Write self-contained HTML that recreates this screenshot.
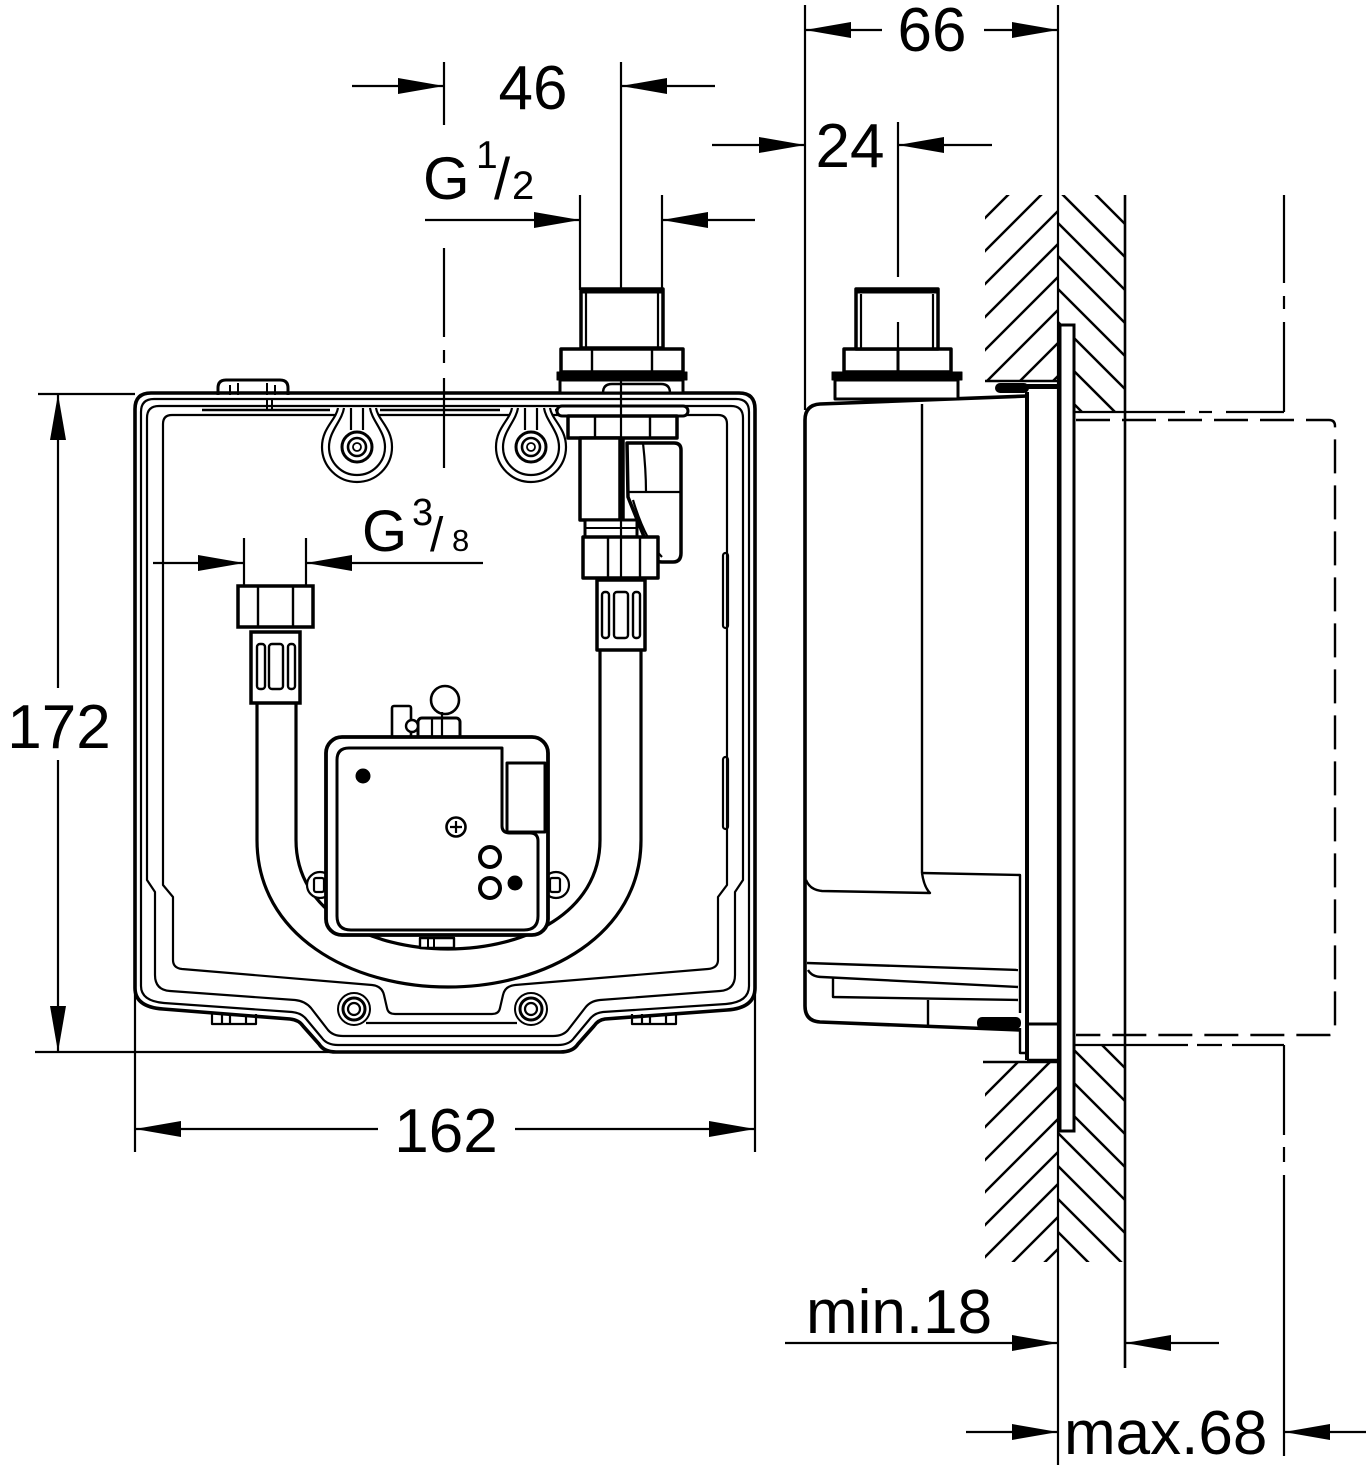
<!DOCTYPE html>
<html><head><meta charset="utf-8">
<style>
html,body{margin:0;padding:0;background:#fff;}
svg{display:block}
text{font-family:"Liberation Sans",Arial,sans-serif;fill:#000}
</style></head><body>
<svg width="1366" height="1465" viewBox="0 0 1366 1465" xmlns="http://www.w3.org/2000/svg">
<defs>
<clipPath id="hUL"><rect x="985" y="195" width="73" height="186"/></clipPath>
<clipPath id="hUR"><rect x="1058" y="195" width="67" height="216"/></clipPath>
<clipPath id="hLL"><rect x="985" y="1061" width="73" height="201"/></clipPath>
<clipPath id="hLR"><rect x="1058" y="1045" width="67" height="217"/></clipPath>
</defs>
<rect width="1366" height="1465" fill="#fff"/>

<!-- ============ DIMENSIONS LEFT VIEW ============ -->
<g stroke="#000" stroke-width="2.2" fill="none">
  <!-- 46 -->
  <line x1="352" y1="86" x2="444" y2="86"/>
  <line x1="621" y1="86" x2="715" y2="86"/>
  <line x1="444" y1="62" x2="444" y2="125"/>
  <line x1="621" y1="62" x2="621" y2="333"/>
  <line x1="621" y1="347" x2="621" y2="360"/>
  <!-- G1/2 -->
  <line x1="425" y1="220" x2="580" y2="220"/>
  <line x1="662" y1="220" x2="755" y2="220"/>
  <line x1="580" y1="195" x2="580" y2="290"/>
  <line x1="662" y1="195" x2="662" y2="290"/>
  <!-- center line -->
  <line x1="444" y1="248" x2="444" y2="337"/>
  <line x1="444" y1="350" x2="444" y2="363"/>
  <line x1="444" y1="378" x2="444" y2="468"/>
  <!-- 172 -->
  <line x1="38" y1="394" x2="135" y2="394"/>
  <line x1="35" y1="1052" x2="336" y2="1052"/>
  <line x1="58" y1="394" x2="58" y2="688"/>
  <line x1="58" y1="760" x2="58" y2="1052"/>
  <!-- 162 -->
  <line x1="135" y1="985" x2="135" y2="1152"/>
  <line x1="755" y1="985" x2="755" y2="1152"/>
  <line x1="135" y1="1129" x2="378" y2="1129"/>
  <line x1="515" y1="1129" x2="755" y2="1129"/>
  <!-- G3/8 -->
  <line x1="153" y1="563" x2="244" y2="563"/>
  <line x1="306" y1="563" x2="483" y2="563"/>
  <line x1="244" y1="538" x2="244" y2="586"/>
  <line x1="306" y1="538" x2="306" y2="586"/>
</g>
<g fill="#000" stroke="none">
  <polygon points="444,86 398,78 398,94"/>
  <polygon points="621,86 667,78 667,94"/>
  <polygon points="580,220 534,212 534,228"/>
  <polygon points="662,220 708,212 708,228"/>
  <polygon points="58,394 50,440 66,440"/>
  <polygon points="58,1052 50,1006 66,1006"/>
  <polygon points="135,1129 181,1121 181,1137"/>
  <polygon points="755,1129 709,1121 709,1137"/>
  <polygon points="244,563 198,555 198,571"/>
  <polygon points="306,563 352,555 352,571"/>
</g>
<text x="533" y="109" font-size="62" text-anchor="middle">46</text>
<text x="423" y="199" font-size="60">G</text>
<text x="476" y="168" font-size="39">1</text>
<text x="494" y="199" font-size="58">/</text>
<text x="512" y="199" font-size="40">2</text>
<text x="59" y="748" font-size="62" text-anchor="middle">172</text>
<text x="446" y="1152" font-size="62" text-anchor="middle">162</text>
<text x="362" y="551" font-size="58">G</text>
<text x="412" y="525" font-size="38">3</text>
<text x="430" y="551" font-size="48">/</text>
<text x="452" y="551" font-size="31">8</text>

<!-- ============ LEFT VIEW BOX ============ -->
<g stroke="#000" fill="none" stroke-linejoin="round">
  <!-- top tab -->
  <path d="M218,395 V388 Q218,380 226,380 H280 Q288,380 288,388 V395" stroke-width="3" fill="#fff"/>
  <path d="M230,395 V385 M238,395 V383 M267,395 V383 M275,395 V385" stroke-width="2"/>
  <!-- outer contour -->
  <path d="M135,409 Q135,393 151,393 H739 Q755,393 755,409 V988 Q755,1008 727,1010 L605,1019 Q598,1020 594,1026 L578,1044 Q573,1052 560,1052 H336 Q324,1052 319,1044 L303,1026 Q299,1020 290,1019 L163,1009 Q135,1007 135,988 Z" stroke-width="3.6"/>
  <path d="M141,412 Q141,399 154,399 H736 Q749,399 749,412 V986 Q749,1002 726,1004 L603,1012 Q594,1013 589,1020 L574,1038 Q569,1045 558,1045 H338 Q327,1045 322,1038 L307,1020 Q302,1013 292,1012 L164,1003 Q141,1001 141,986 Z" stroke-width="2.2"/>
  <path d="M147,880 V418 Q147,406 159,406 H731 Q743,406 743,418 V880 L735,892 V975 Q735,990 720,991 L600,1000 Q590,1001 585,1008 L568,1030 Q563,1036 553,1036 H343 Q333,1036 328,1030 L311,1008 Q305,1001 295,1000 L170,991 Q155,990 155,975 V892 Z" stroke-width="2.2"/>
  <path d="M163,885 V424 Q163,415 172,415 H718 Q727,415 727,424 V885 L718,897 V960 Q718,968 708,969 L515,985 Q505,986 503,995 L500,1008 Q499,1014 492,1014 H395 Q388,1014 387,1008 L384,995 Q382,986 372,985 L182,969 Q173,968 173,960 V897 Z" stroke-width="2.2"/>
  <!-- rail -->
  <path d="M202,410 H330 M380,410 H500 M555,410 H580" stroke-width="2.4"/>
  <path d="M267,399 V411 M272,399 V411" stroke-width="2"/>
  <!-- bar between bottom lugs -->
  <line x1="366" y1="1023" x2="517" y2="1023" stroke-width="2.2"/>
  <!-- side slots -->
  <rect x="723" y="553" width="5" height="75" rx="2.5" stroke-width="2.2"/>
  <rect x="723" y="757" width="5" height="72" rx="2.5" stroke-width="2.2"/>
  <!-- feet -->
  <path d="M212,1012 V1024 H256 V1014 M222,1014 V1024 M230,1014 V1024 M246,1014 V1024" stroke-width="2.2"/>
  <path d="M632,1014 V1024 H676 V1012 M642,1014 V1024 M650,1014 V1024 M666,1014 V1024" stroke-width="2.2"/>
</g>

<!-- keyhole lugs -->
<g stroke="#000" fill="#fff" stroke-width="2.2">
  <g>
    <path d="M338,408 C336,420 322,428 322,447 A35,35 0 0 0 392,447 C392,428 378,420 376,408"/>
    <path d="M344,408 C342,421 329,431 329,447 A28,28 0 0 0 385,447 C385,431 372,421 370,408"/>
    <path d="M351,408 V430 M363,408 V430" fill="none"/>
    <circle cx="357" cy="447" r="15" stroke-width="3"/>
    <circle cx="357" cy="447" r="9" stroke-width="2.6"/>
    <circle cx="357" cy="447" r="4" stroke-width="1.8"/>
  </g>
  <g>
    <path d="M512,408 C510,420 496,428 496,447 A35,35 0 0 0 566,447 C566,428 552,420 550,408"/>
    <path d="M518,408 C516,421 503,431 503,447 A28,28 0 0 0 559,447 C559,431 546,421 544,408"/>
    <path d="M525,408 V430 M537,408 V430" fill="none"/>
    <circle cx="531" cy="447" r="15" stroke-width="3"/>
    <circle cx="531" cy="447" r="9" stroke-width="2.6"/>
    <circle cx="531" cy="447" r="4" stroke-width="1.8"/>
  </g>
  <!-- bottom lugs -->
  <circle cx="354" cy="1009" r="16" stroke-width="2"/>
  <circle cx="354" cy="1009" r="11" stroke-width="3"/>
  <circle cx="354" cy="1009" r="6" stroke-width="2.2"/>
  <circle cx="531" cy="1009" r="16" stroke-width="2"/>
  <circle cx="531" cy="1009" r="11" stroke-width="3"/>
  <circle cx="531" cy="1009" r="6" stroke-width="2.2"/>
</g>

<!-- hose -->
<g stroke="#000" fill="none" stroke-width="3.2">
  <path d="M257,703 V840 C257,935 350,987 448,987 C546,987 641,935 641,840 V650"/>
  <path d="M296,703 V840 C296,912 370,949 448,949 C526,949 600,912 600,840 V650"/>
</g>

<!-- module side lugs -->
<g stroke="#000" fill="#fff" stroke-width="2.2">
  <circle cx="320" cy="885" r="13"/>
  <rect x="314" y="878" width="10" height="14" rx="2"/>
  <circle cx="556" cy="885" r="13"/>
  <rect x="550" y="878" width="10" height="14" rx="2"/>
</g>

<!-- module -->
<g stroke="#000" fill="#fff" stroke-linejoin="round">
  <rect x="392" y="706" width="19" height="31" rx="2" stroke-width="2.6"/>
  <circle cx="445" cy="700" r="14" stroke-width="2.6"/>
  <rect x="418" y="718" width="42" height="32" rx="4" stroke-width="3"/>
  <circle cx="412" cy="726" r="6" stroke-width="2.4"/>
  <path d="M432,718 V748 M442,712 V748" stroke-width="2.2" fill="none"/>
  <rect x="326" y="737" width="222" height="198" rx="16" stroke-width="3.8"/>
  <path d="M349,748 H502 V826 Q502,833 510,833 H530 Q538,833 538,841 V916 Q538,930 524,930 H351 Q337,930 337,916 V760 Q337,748 349,748 Z" stroke-width="3"/>
  <rect x="507" y="763" width="38" height="69" stroke-width="3"/>
  <rect x="420" y="938" width="34" height="10" stroke-width="2.4"/>
  <path d="M428,938 V948 M434,938 V948" stroke-width="2" fill="none"/>
</g>
<g stroke="#000">
  <circle cx="363" cy="776" r="7" fill="#000"/>
  <circle cx="456" cy="827" r="9.5" fill="#fff" stroke-width="2.6"/>
  <path d="M450,827 H462 M456,821 V833" stroke-width="2.2"/>
  <circle cx="490" cy="857" r="10" fill="#fff" stroke-width="4"/>
  <circle cx="490" cy="888" r="10" fill="#fff" stroke-width="4"/>
  <circle cx="515" cy="883" r="7" fill="#000"/>
</g>

<!-- left hose nut & sleeve -->
<g stroke="#000" fill="#fff" stroke-width="3.5">
  <rect x="238" y="586" width="75" height="41"/>
  <path d="M258,586 V627 M293,586 V627" stroke-width="2.4" fill="none"/>
  <rect x="251" y="632" width="49" height="71"/>
  <rect x="257" y="644" width="8" height="45" rx="3" stroke-width="2.4"/>
  <rect x="269" y="644" width="14" height="45" rx="3" stroke-width="2.4"/>
  <rect x="288" y="644" width="7" height="45" rx="3" stroke-width="2.4"/>
</g>

<!-- right valve stack (left view) -->
<g stroke="#000" fill="#fff" stroke-width="3.5" stroke-linejoin="round">
  <rect x="581" y="289" width="82" height="59"/>
  <line x1="581" y1="291" x2="663" y2="291" stroke-width="5"/>
  <path d="M586,293 V348 M658,293 V348" stroke-width="2.2" fill="none"/>
  <rect x="561" y="349" width="122" height="23"/>
  <path d="M592,349 V372 M652,349 V372" stroke-width="2.4" fill="none"/>
  <rect x="557" y="372" width="130" height="8" fill="#000" stroke-width="1"/>
  <rect x="560" y="380" width="123" height="13" stroke-width="3"/>
  <path d="M603,393 Q603,384 612,384 H661 Q670,384 670,393" stroke-width="2.4" fill="none"/>
  <rect x="557" y="406" width="131" height="10" rx="5" stroke-width="3"/>
  <rect x="568" y="416" width="109" height="22"/>
  <path d="M595,416 V438 M650,416 V438" stroke-width="2.4" fill="none"/>
  <rect x="580" y="438" width="40" height="82"/>
  <line x1="623" y1="438" x2="623" y2="520" stroke-width="3.5"/>
  <path d="M627,443 H674 Q681,443 681,450 V553 Q681,562 673,562 H662 Q654,562 651,554 L628,497 Z"/>
  <path d="M628,492 H680 M633,500 Q645,540 662,557 M643,443 Q646,470 646,492" stroke-width="2.2" fill="none"/>
  <rect x="585" y="520" width="52" height="17" stroke-width="3"/>
  <line x1="585" y1="528" x2="637" y2="528" stroke-width="2"/>
  <rect x="583" y="537" width="75" height="41"/>
  <path d="M608,537 V578 M640,537 V578" stroke-width="2.4" fill="none"/>
  <rect x="597" y="580" width="48" height="70"/>
  <rect x="602" y="592" width="7" height="46" rx="3" stroke-width="2.4"/>
  <rect x="614" y="592" width="14" height="46" rx="3" stroke-width="2.4"/>
  <rect x="633" y="592" width="7" height="46" rx="3" stroke-width="2.4"/>
</g>
<g stroke="#000" stroke-width="2.2">
  <line x1="621" y1="377" x2="621" y2="580"/>
</g>

<!-- ============ RIGHT VIEW ============ -->
<!-- hatching -->
<g stroke="#000" stroke-width="2.5" fill="none">
  <g clip-path="url(#hUL)">
    <line x1="900" y1="303" x2="1150" y2="53"/>
    <line x1="900" y1="336" x2="1150" y2="86"/>
    <line x1="900" y1="369" x2="1150" y2="119"/>
    <line x1="900" y1="402" x2="1150" y2="152"/>
    <line x1="900" y1="435" x2="1150" y2="185"/>
    <line x1="900" y1="468" x2="1150" y2="218"/>
    <line x1="900" y1="501" x2="1150" y2="251"/>
    <line x1="900" y1="534" x2="1150" y2="284"/>
  </g>
  <g clip-path="url(#hUR)">
    <line x1="1000" y1="99" x2="1200" y2="299"/>
    <line x1="1000" y1="132" x2="1200" y2="332"/>
    <line x1="1000" y1="165" x2="1200" y2="365"/>
    <line x1="1000" y1="198" x2="1200" y2="398"/>
    <line x1="1000" y1="231" x2="1200" y2="431"/>
    <line x1="1000" y1="264" x2="1200" y2="464"/>
    <line x1="1000" y1="297" x2="1200" y2="497"/>
    <line x1="1000" y1="330" x2="1200" y2="530"/>
  </g>
  <g clip-path="url(#hLL)">
    <line x1="900" y1="1180" x2="1150" y2="930"/>
    <line x1="900" y1="1212" x2="1150" y2="962"/>
    <line x1="900" y1="1245" x2="1150" y2="995"/>
    <line x1="900" y1="1277" x2="1150" y2="1027"/>
    <line x1="900" y1="1310" x2="1150" y2="1060"/>
    <line x1="900" y1="1342" x2="1150" y2="1092"/>
    <line x1="900" y1="1375" x2="1150" y2="1125"/>
    <line x1="900" y1="1407" x2="1150" y2="1157"/>
  </g>
  <g clip-path="url(#hLR)">
    <line x1="1000" y1="943" x2="1200" y2="1143"/>
    <line x1="1000" y1="976" x2="1200" y2="1176"/>
    <line x1="1000" y1="1009" x2="1200" y2="1209"/>
    <line x1="1000" y1="1042" x2="1200" y2="1242"/>
    <line x1="1000" y1="1075" x2="1200" y2="1275"/>
    <line x1="1000" y1="1108" x2="1200" y2="1308"/>
    <line x1="1000" y1="1141" x2="1200" y2="1341"/>
    <line x1="1000" y1="1174" x2="1200" y2="1374"/>
  </g>
  <line x1="985" y1="381" x2="1057" y2="381"/>
  <line x1="983" y1="1062" x2="1057" y2="1062"/>
</g>

<!-- wall lines & dims -->
<g stroke="#000" stroke-width="2.2" fill="none">
  <line x1="1058" y1="5" x2="1058" y2="1465"/>
  <line x1="1125" y1="195" x2="1125" y2="1368" stroke-width="2.6"/>
  <line x1="805" y1="5" x2="805" y2="410"/>
  <!-- 66 -->
  <line x1="805" y1="30" x2="882" y2="30"/>
  <line x1="984" y1="30" x2="1058" y2="30"/>
  <!-- 24 -->
  <line x1="712" y1="145" x2="805" y2="145"/>
  <line x1="898" y1="145" x2="992" y2="145"/>
  <line x1="898" y1="122" x2="898" y2="277"/>
  <line x1="898" y1="298" x2="898" y2="313"/>
  <!-- min.18 -->
  <line x1="785" y1="1343" x2="1058" y2="1343"/>
  <line x1="1125" y1="1343" x2="1219" y2="1343"/>
  <!-- max.68 -->
  <line x1="966" y1="1432" x2="1058" y2="1432"/>
  <line x1="1284" y1="1432" x2="1366" y2="1432"/>
  <!-- dash-dot upper -->
  <line x1="1284" y1="195" x2="1284" y2="283"/>
  <line x1="1284" y1="296" x2="1284" y2="309"/>
  <line x1="1284" y1="322" x2="1284" y2="412"/>
  <line x1="1284" y1="412" x2="1226" y2="412"/>
  <line x1="1212" y1="412" x2="1199" y2="412"/>
  <line x1="1185" y1="412" x2="1074" y2="412"/>
  <!-- dash-dot lower -->
  <line x1="1074" y1="1045" x2="1188" y2="1045"/>
  <line x1="1197" y1="1045" x2="1222" y2="1045"/>
  <line x1="1232" y1="1045" x2="1284" y2="1045"/>
  <line x1="1284" y1="1045" x2="1284" y2="1135"/>
  <line x1="1284" y1="1147" x2="1284" y2="1162"/>
  <line x1="1284" y1="1175" x2="1284" y2="1456"/>
  <!-- dashed cover -->
  <path d="M1076,420 H1329 Q1335,420 1335,426 V1029 Q1335,1035 1329,1035 H1076" stroke-dasharray="34 12" stroke-width="2.4"/>
</g>
<g fill="#000">
  <polygon points="805,30 851,22 851,38"/>
  <polygon points="1058,30 1012,22 1012,38"/>
  <polygon points="805,145 759,137 759,153"/>
  <polygon points="898,145 944,137 944,153"/>
  <polygon points="1058,1343 1012,1335 1012,1351"/>
  <polygon points="1125,1343 1171,1335 1171,1351"/>
  <polygon points="1058,1432 1012,1424 1012,1440"/>
  <polygon points="1284,1432 1330,1424 1330,1440"/>
</g>
<text x="932" y="51" font-size="62" text-anchor="middle">66</text>
<text x="850" y="167" font-size="62" text-anchor="middle">24</text>
<text x="806" y="1333" font-size="62">min.18</text>
<text x="1064" y="1454" font-size="62">max.68</text>

<!-- plate -->
<rect x="1060" y="325" width="14" height="806" fill="#fff" stroke="#000" stroke-width="3"/>

<!-- right view box -->
<g stroke="#000" fill="none" stroke-linejoin="round">
  <path d="M1027,396 L820,404 Q805,405 805,420 V1006 Q805,1021 820,1022 L1020,1030" stroke-width="3.6"/>
  <line x1="922" y1="404" x2="922" y2="873" stroke-width="2.4"/>
  <path d="M922,873 L1020,875 V1013" stroke-width="2.4"/>
  <path d="M806,880 Q810,890 822,891 L930,893 Q924,887 922,873" stroke-width="2.4"/>
  <path d="M807,963 L1018,970" stroke-width="2.4"/>
  <path d="M808,970 Q812,977 822,977 L1018,987" stroke-width="2.4"/>
  <path d="M833,978 V997 L1018,1000" stroke-width="2.4"/>
  <line x1="928" y1="1000" x2="928" y2="1025" stroke-width="2.4"/>
  <line x1="1027" y1="392" x2="1027" y2="1060" stroke-width="4"/>
  <path d="M1020,1028 V1053 H1027" stroke-width="2.4"/>
  <line x1="1027" y1="1060" x2="1057" y2="1060" stroke-width="2.4"/>
  <line x1="1027" y1="1024" x2="1057" y2="1024" stroke-width="3"/>
</g>
<g fill="#000">
  <rect x="995" y="383" width="34" height="10" rx="5"/>
  <rect x="1027" y="384" width="30" height="5"/>
  <rect x="977" y="1017" width="44" height="12" rx="5"/>
</g>

<!-- right view fitting -->
<g stroke="#000" fill="#fff" stroke-width="3.5" stroke-linejoin="round">
  <rect x="835" y="380" width="123" height="19" stroke-width="3"/>
  <rect x="832" y="372" width="130" height="8" fill="#000" stroke-width="1"/>
  <rect x="844" y="349" width="107" height="23"/>
  <line x1="898" y1="349" x2="898" y2="372" stroke-width="3"/>
  <rect x="856" y="289" width="82" height="60"/>
  <line x1="856" y1="291" x2="938" y2="291" stroke-width="5"/>
  <path d="M861,294 V349 M933,294 V349" stroke-width="2.2" fill="none"/>
  <line x1="898" y1="322" x2="898" y2="349" stroke-width="2.2"/>
</g>
</svg>
</body></html>
